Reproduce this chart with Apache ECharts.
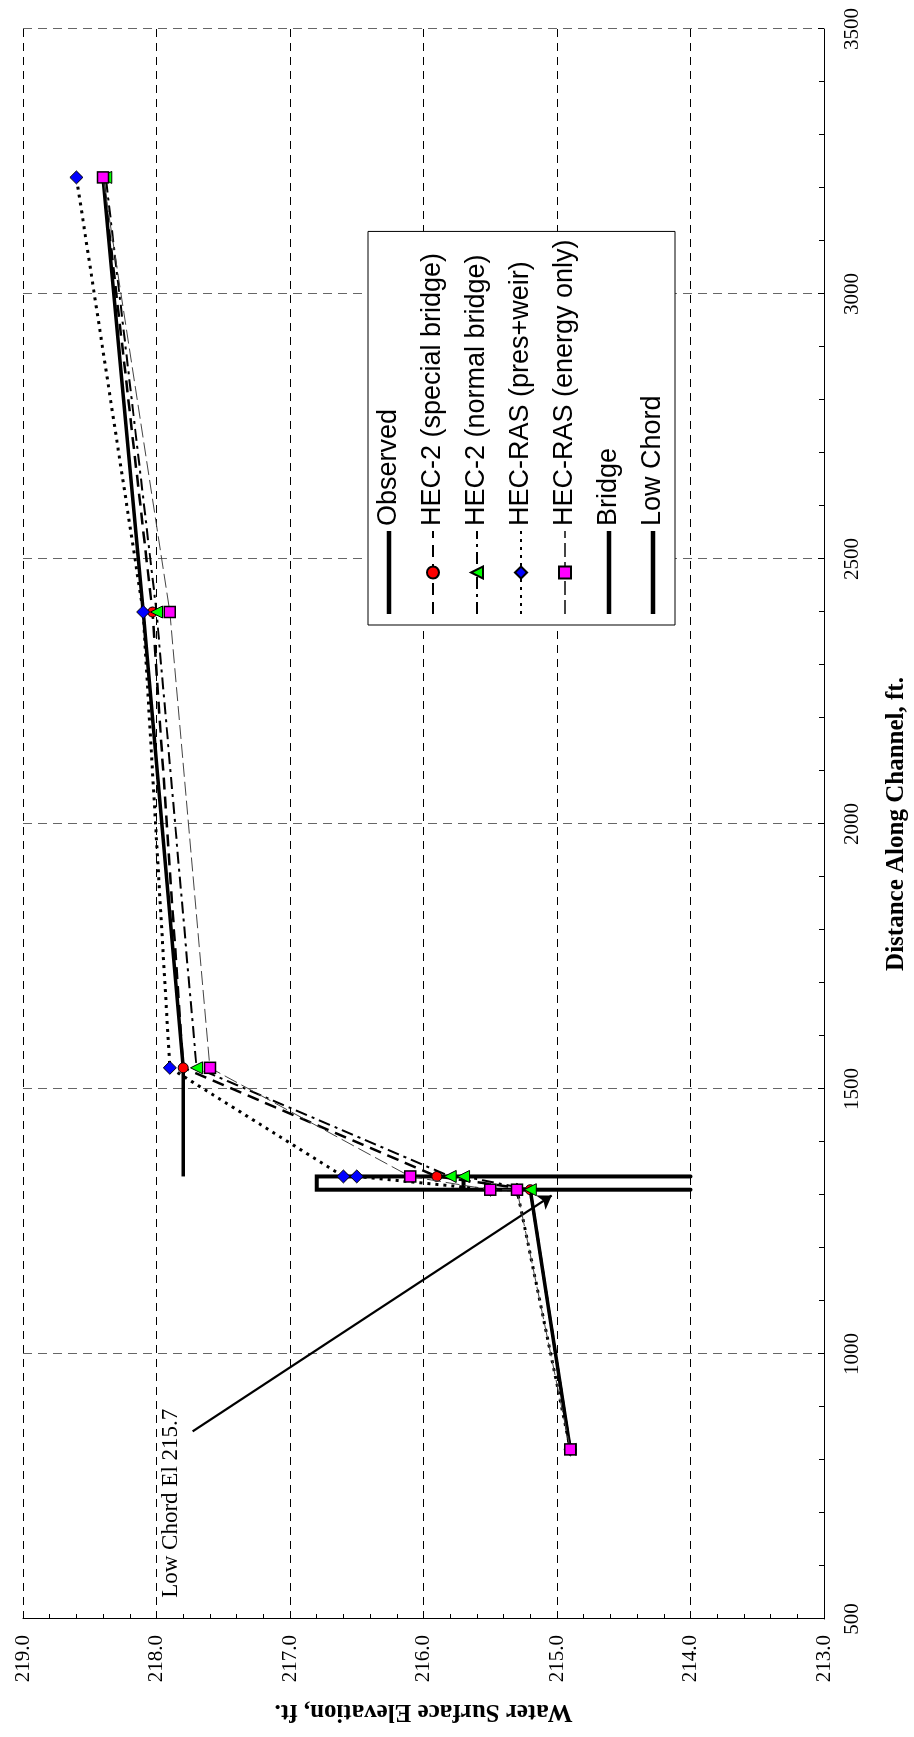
<!DOCTYPE html>
<html><head><meta charset="utf-8">
<script src="https://cdn.jsdelivr.net/npm/echarts@6/dist/echarts.min.js"></script>
<style>
html,body{margin:0;padding:0;width:914px;height:1737px;overflow:hidden;background:#fff;}
#wrap{position:absolute;left:0;top:0;width:1737px;height:914px;transform-origin:0 0;transform:translateY(1737px) rotate(-90deg);}
</style></head><body>
<div id="wrap"></div>
<script>
// Axis ranges
const distanceAxis = { min: 500, max: 3500, interval: 500 };
const elevationAxis = { min: 213, max: 219, interval: 1 };

// Series data: [distance along channel (ft), water surface elevation (ft)]
const observed = [[820, 214.9], [1310, 215.2], [1322, '-'], [1335, 217.8], [1540, 217.8], [2400, 218.1], [3220, 218.4]];
const hec2Special = [[820, 214.9], [1310, 215.2], [1335, 215.9], [1540, 217.8], [2400, 218.03], [3220, 218.4]];
const hec2Normal = [[820, 214.9], [1310, 215.2], [1335, 215.7], [1335, 215.8], [1540, 217.7], [2400, 218.0], [3220, 218.38]];
const rasPresWeir = [[820, 214.9], [1310, 215.3], [1310, 215.5], [1335, 216.5], [1335, 216.6], [1540, 217.9], [2400, 218.1], [3220, 218.6]];
const rasEnergy = [[820, 214.9], [1310, 215.3], [1310, 215.5], [1335, 216.1], [1540, 217.6], [2400, 217.9], [3220, 218.4]];
const bridge = [[1335, 214.0], [1335, 216.8], [1310, 216.8], [1310, 214.0]];
const lowChord = [[1310, 215.7], [1335, 215.7]];

// Annotation
const annotationText = 'Low Chord El 215.7';
const annotationAnchor = [540, 217.89];
const arrowStart = [854, 217.73];
const arrowEnd = [1299, 215.04];

const names = ['Observed', 'HEC-2 (special bridge)', 'HEC-2 (normal bridge)', 'HEC-RAS (pres+weir)', 'HEC-RAS (energy only)', 'Bridge', 'Low Chord'];

const serif = 'Liberation Serif';
const sans = 'Liberation Sans';
const thickLineIcon = 'path://M0,0h83v4.5h-83z';

const chart = echarts.init(document.getElementById('wrap'), null, { width: 1737, height: 914, renderer: 'canvas' });

const axisCommon = {
  type: 'value',
  axisLine: { show: true, onZero: false, lineStyle: { color: '#000', width: 1 } },
  axisTick: { show: true, inside: true, length: 6, lineStyle: { color: '#000', width: 1 } },
  minorTick: { show: true, splitNumber: 5, length: 5, lineStyle: { color: '#000', width: 1 } },
  nameLocation: 'middle',
  nameTextStyle: { fontFamily: serif, fontWeight: 'bold', fontSize: 25, color: '#000' }
};

chart.setOption({
  animation: false,
  backgroundColor: '#fff',
  grid: { left: 118, right: 29, top: 23, bottom: 87, containLabel: false },
  xAxis: Object.assign({}, axisCommon, {
    min: distanceAxis.min, max: distanceAxis.max, interval: distanceAxis.interval,
    position: 'bottom',
    splitLine: { show: true, lineStyle: { color: '#666', width: 1, type: [9, 6] } },
    axisLabel: { color: '#000', fontFamily: serif, fontSize: 21, margin: 18, formatter: v => String(v) },
    name: 'Distance Along Channel, ft.', nameGap: 60
  }),
  yAxis: Object.assign({}, axisCommon, {
    min: elevationAxis.min, max: elevationAxis.max, interval: elevationAxis.interval,
    position: 'left',
    splitLine: { show: true, lineStyle: { color: '#000', width: 1, type: [8, 6] } },
    axisLabel: { color: '#000', fontFamily: serif, fontSize: 21, margin: 16, formatter: v => v.toFixed(1) },
    name: 'Water Surface Elevation, ft.', nameGap: 80, nameRotate: 90
  }),
  legend: {
    orient: 'vertical', left: 1112, top: 368,
    itemWidth: 83, itemHeight: 15, itemGap: 14,
    padding: [6, 8, 7, 10],
    borderColor: '#000', borderWidth: 1, backgroundColor: '#fff',
    selectedMode: false,
    textStyle: { fontFamily: sans, fontSize: 27, color: '#000', lineHeight: 30 },
    data: [
      { name: names[0], icon: thickLineIcon, itemStyle: { color: '#000' } },
      names[1], names[2], names[3], names[4],
      { name: names[5], icon: thickLineIcon, itemStyle: { color: '#000' } },
      { name: names[6], icon: thickLineIcon, itemStyle: { color: '#000' } }
    ]
  },
  series: [
    {
      name: names[0], type: 'line', data: observed, symbol: 'none', connectNulls: false, z: 3,
      lineStyle: { color: '#000', width: 3.5, type: 'solid' }, itemStyle: { color: '#000' }
    },
    {
      name: names[1], type: 'line', data: hec2Special, symbol: 'circle', symbolSize: 10, z: 4,
      lineStyle: { color: '#000', width: 2.5, type: [12, 7] },
      itemStyle: { color: '#ff0000', borderColor: '#000', borderWidth: 1, opacity: 1 }
    },
    {
      name: names[2], type: 'line', data: hec2Normal, symbol: 'triangle', symbolSize: 12, z: 5,
      lineStyle: { color: '#000', width: 2, type: [12, 5, 3, 5] },
      itemStyle: { color: '#00ff00', borderColor: '#000', borderWidth: 1, opacity: 1 }
    },
    {
      name: names[3], type: 'line', data: rasPresWeir, symbol: 'diamond', symbolSize: 13, z: 6,
      lineStyle: { color: '#000', width: 3, type: [3, 5] },
      itemStyle: { color: '#0000ff', borderColor: '#000', borderWidth: 1, opacity: 1 }
    },
    {
      name: names[4], type: 'line', data: rasEnergy, symbol: 'rect', symbolSize: 11, z: 7,
      lineStyle: { color: '#444', width: 1, type: [14, 5] },
      itemStyle: { color: '#ff00ff', borderColor: '#000', borderWidth: 1.5, opacity: 1 }
    },
    {
      name: names[5], type: 'line', data: bridge, symbol: 'none', z: 3,
      lineStyle: { color: '#000', width: 4, type: 'solid', cap: 'round', join: 'miter' }, itemStyle: { color: '#000' }
    },
    {
      name: names[6], type: 'line', data: lowChord, symbol: 'none', z: 3,
      lineStyle: { color: '#000', width: 4, type: 'solid' }, itemStyle: { color: '#000' },
      markLine: {
        silent: true, animation: false,
        symbol: ['none', 'arrow'], symbolSize: 13,
        label: { show: false },
        lineStyle: { color: '#000', width: 2.2, type: 'solid' },
        data: [[{ coord: arrowStart }, { coord: arrowEnd }]]
      },
      markPoint: {
        silent: true, animation: false,
        symbol: 'circle', symbolSize: 0,
        data: [{ coord: annotationAnchor, value: annotationText }],
        label: { show: true, position: 'right', distance: 0, formatter: annotationText, color: '#000', fontFamily: serif, fontSize: 23 }
      }
    }
  ]
});
</script>
</body></html>
